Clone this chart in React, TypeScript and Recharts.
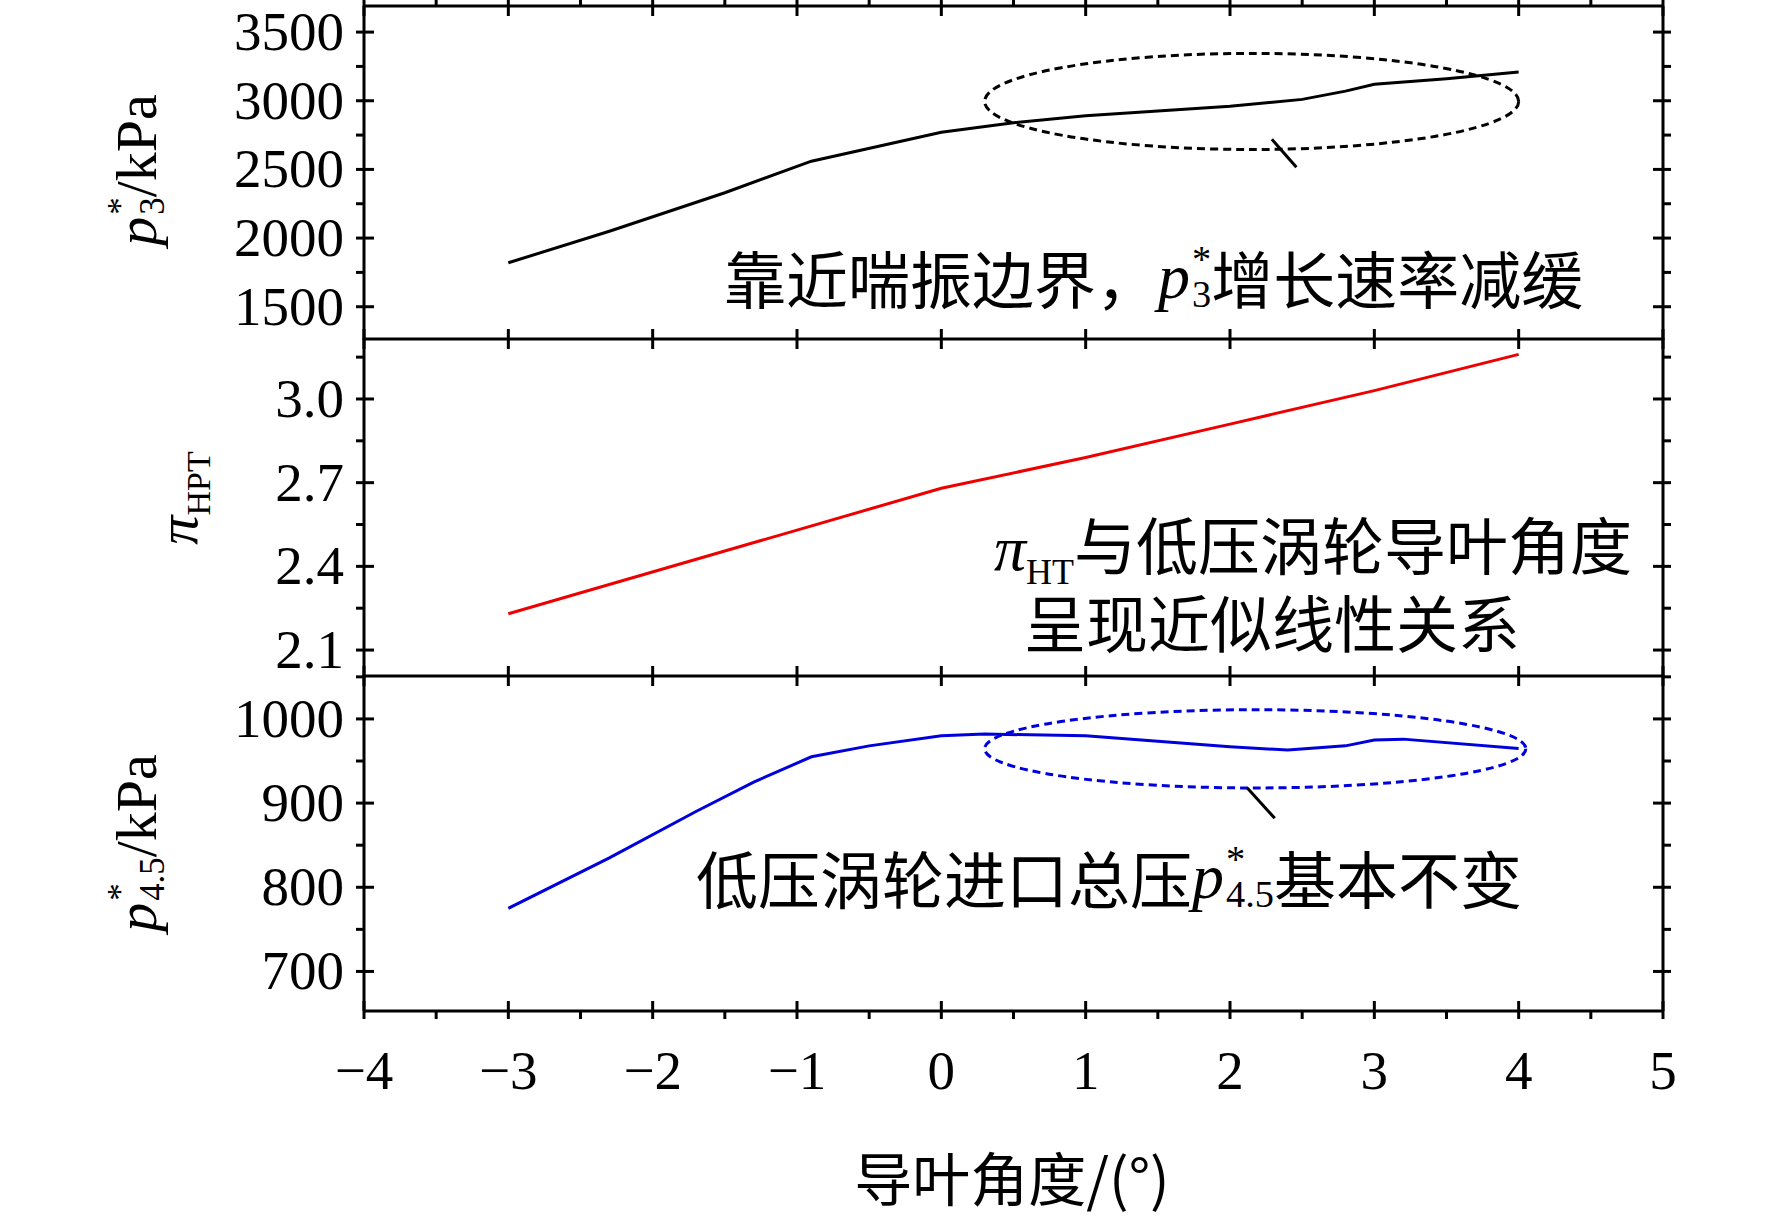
import React from 'react';
import { LineChart, Line, XAxis, YAxis, ReferenceArea, ReferenceLine } from 'recharts';

const angleP3 = [-3, -2.3, -1.5, -0.9, 0, 0.5, 1, 2, 2.5, 2.8, 3, 3.5, 4];
const p3 = [1820, 2050, 2330, 2560, 2770, 2840, 2890, 2960, 3010, 3070, 3120, 3160, 3210];
const anglePi = [-3, -1, 0, 1, 2, 3, 4];
const piHPT = [2.23, 2.53, 2.68, 2.79, 2.91, 3.03, 3.16];
const angleP45 = [-3, -2.3, -1.7, -1.3, -0.9, -0.5, 0, 0.3, 1, 2, 2.4, 2.8, 3, 3.2, 4];
const p45 = [775, 835, 890, 925, 955, 968, 980, 982, 980, 967, 963, 968, 975, 976, 965];

const xTicks = [-4, -3, -2, -1, 0, 1, 2, 3, 4, 5];
const p3Ticks = [1500, 2000, 2500, 3000, 3500];
const piTicks = [2.1, 2.4, 2.7, 3.0];
const p45Ticks = [700, 800, 900, 1000];

const half = (t: number[]) => {
  const out: number[] = [];
  t.forEach((v, i) => {
    out.push(v);
    if (i < t.length - 1) out.push(+((v + t[i + 1]) / 2).toFixed(3));
  });
  return out;
};

const W = 1772;
const LEFT = 364;
const RIGHT = 109;
const FONT = '"Liberation Serif", "Times New Roman", serif';
const CJK = '"Noto Sans CJK SC", sans-serif';

const mk = (xs: number[], ys: number[]) => xs.map((x, i) => ({ x, y: ys[i] }));

const makeYTick = (major: number[], fmt: (v: number) => string, side: 'left' | 'right') => (props: any) => {
  const { x, y, payload } = props;
  const isMajor = major.some((m) => Math.abs(m - payload.value) < 1e-6);
  const len = isMajor ? 18 : 9;
  const dir = side === 'left' ? 1 : -1;
  return (
    <g>
      <line x1={x} x2={x + dir * len} y1={y} y2={y} stroke="#000" strokeWidth={3} />
      {side === 'left' && isMajor && (
        <text x={x - 12} y={y} dy={18} textAnchor="end" fontFamily={FONT} fontSize={55} fill="#000">
          {fmt(payload.value)}
        </text>
      )}
    </g>
  );
};

const makeXTick = (labels: boolean, orient: 'top' | 'bottom') => (props: any) => {
  const { x, y, payload } = props;
  const isMajor = Number.isInteger(payload.value);
  const len = isMajor ? 18 : 9;
  const dir = orient === 'bottom' ? -1 : 1;
  return (
    <g>
      <line x1={x} x2={x} y1={y} y2={y + dir * len} stroke="#000" strokeWidth={3} />
      {labels && isMajor && (
        <text x={x} y={y + 70} textAnchor="middle" fontFamily={FONT} fontSize={55} fill="#000">
          {payload.value < 0 ? '\u2212' + Math.abs(payload.value) : payload.value}
        </text>
      )}
    </g>
  );
};

const ellipse = (props: any) => {
  const { x, y, width, height } = props;
  return (
    <ellipse cx={x + width / 2} cy={y + height / 2} rx={width / 2} ry={height / 2}
      fill="none" stroke={props.stroke} strokeWidth={3} strokeDasharray="8 5" />
  );
};

type PanelProps = {
  data: { x: number; y: number }[];
  domain: [number, number];
  major: number[];
  fmt: (v: number) => string;
  color: string;
  height: number;
  top: number;
  bottom: number;
  bottomLabels?: boolean;
  children?: React.ReactNode;
};

function Panel({ data, domain, major, fmt, color, height, top, bottom, bottomLabels, children }: PanelProps) {
  const step = major[1] - major[0];
  const yt = half(major).concat(
    major[0] - step / 2 > domain[0] ? [major[0] - step / 2] : [],
    major[major.length - 1] + step / 2 < domain[1] ? [major[major.length - 1] + step / 2] : []
  );
  return (
    <LineChart width={W} height={height} data={data} margin={{ top, bottom, left: 0, right: 0 }}
      style={{ overflow: 'visible' }}>
      <XAxis xAxisId="b" dataKey="x" type="number" domain={[-4, 5]} ticks={half(xTicks)} interval={0}
        orientation="bottom" height={1} axisLine={{ stroke: '#000', strokeWidth: 3 }} tickLine={false}
        tick={makeXTick(!!bottomLabels, 'bottom')} />
      <XAxis xAxisId="t" dataKey="x" type="number" domain={[-4, 5]} ticks={half(xTicks)} interval={0}
        orientation="top" height={1} axisLine={{ stroke: '#000', strokeWidth: 3 }} tickLine={false}
        tick={makeXTick(false, 'top')} />
      <YAxis yAxisId="l" type="number" domain={domain} ticks={yt} interval={0} width={LEFT}
        allowDataOverflow axisLine={{ stroke: '#000', strokeWidth: 3 }} tickLine={false}
        tick={makeYTick(major, fmt, 'left')} />
      <YAxis yAxisId="r" orientation="right" type="number" domain={domain} ticks={yt} interval={0} width={RIGHT}
        allowDataOverflow axisLine={{ stroke: '#000', strokeWidth: 3 }} tickLine={false}
        tick={makeYTick(major, fmt, 'right')} />
      {children}
      <Line xAxisId="b" yAxisId="l" dataKey="y" stroke={color} strokeWidth={3} dot={false}
        type="linear" isAnimationActive={false} />
    </LineChart>
  );
}

const P = ({ sub }: { sub: string }) => (
  <span style={{ display: 'inline-flex', alignItems: 'center' }}>
    <i>p</i>
    <span style={{ display: 'inline-flex', flexDirection: 'column', fontSize: '0.6em', lineHeight: 0.9, marginLeft: 2 }}>
      <span>*</span>
      <span>{sub}</span>
    </span>
  </span>
);

const abs = (x: number, y: number, extra: React.CSSProperties = {}): React.CSSProperties => ({
  position: 'absolute', left: x, top: y, whiteSpace: 'nowrap', ...extra,
});

export default function App() {
  return (
    <div style={{ position: 'absolute', left: 0, top: 0, width: 1772, height: 1218, background: '#fff' }}>
      <div style={abs(0, 0)}>
        <Panel data={mk(angleP3, p3)} domain={[1265, 3690]} major={p3Ticks} fmt={(v) => String(v)}
          color="#000" height={340} top={5} bottom={0}>
          <ReferenceArea xAxisId="b" yAxisId="l" x1={0.3} x2={4.0} y1={2645} y2={3345} stroke="#000" shape={ellipse} />
          <ReferenceLine xAxisId="b" yAxisId="l" segment={[{ x: 2.29, y: 2720 }, { x: 2.46, y: 2515 }]} stroke="#000" strokeWidth={3} />
        </Panel>
      </div>
      <div style={abs(0, 338)}>
        <Panel data={mk(anglePi, piHPT)} domain={[2.007, 3.215]} major={piTicks} fmt={(v) => v.toFixed(1)}
          color="#ee0000" height={339} top={0} bottom={0} />
      </div>
      <div style={abs(0, 675)}>
        <Panel data={mk(angleP45, p45)} domain={[653, 1051]} major={p45Ticks} fmt={(v) => String(v)}
          color="#0000dd" height={437} top={0} bottom={100} bottomLabels>
          <ReferenceArea xAxisId="b" yAxisId="l" x1={0.3} x2={4.05} y1={918} y2={1011} stroke="#0000dd" shape={ellipse} />
          <ReferenceLine xAxisId="b" yAxisId="l" segment={[{ x: 2.12, y: 918 }, { x: 2.31, y: 882 }]} stroke="#000" strokeWidth={3} />
        </Panel>
      </div>

      <div style={abs(724, 232, { fontFamily: CJK, fontSize: 62, display: 'flex', alignItems: 'center' })}>
        靠近喘振边界，<span style={{ fontFamily: FONT, fontSize: 64 }}><P sub="3" /></span>增长速率减缓
      </div>
      <div style={abs(0, 498, { width: 1632, textAlign: 'right', fontFamily: CJK, fontSize: 62 })}>
        <span style={{ fontFamily: FONT, fontSize: 64 }}><i>π</i><sub style={{ fontSize: 36 }}>HT</sub></span>与低压涡轮导叶角度
      </div>
      <div style={abs(1024, 576, { fontFamily: CJK, fontSize: 62 })}>呈现近似线性关系</div>
      <div style={abs(696, 832, { fontFamily: CJK, fontSize: 62, display: 'flex', alignItems: 'center' })}>
        低压涡轮进口总压<span style={{ fontFamily: FONT, fontSize: 64 }}><P sub="4.5" /></span>基本不变
      </div>

      <div style={abs(136, 170, { transform: 'translate(-50%,-50%) rotate(-90deg)', fontFamily: FONT, fontSize: 58, display: 'flex', alignItems: 'center' })}>
        <P sub="3" />/kPa
      </div>
      <div style={abs(181, 498, { transform: 'translate(-50%,-50%) rotate(-90deg)', fontFamily: FONT, fontSize: 58 })}>
        <i>π</i><sub style={{ fontSize: 34 }}>HPT</sub>
      </div>
      <div style={abs(136, 843, { transform: 'translate(-50%,-50%) rotate(-90deg)', fontFamily: FONT, fontSize: 58, display: 'flex', alignItems: 'center' })}>
        <P sub="4.5" />/kPa
      </div>
      <div style={abs(1012, 1176, { transform: 'translate(-50%,-50%)', fontFamily: CJK, fontSize: 58 })}>
        导叶角度/(°)
      </div>
    </div>
  );
}
